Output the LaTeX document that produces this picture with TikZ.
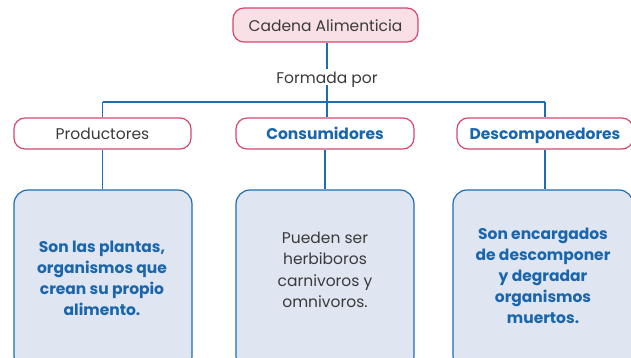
\documentclass[tikz,border=0pt]{standalone}
\usepackage{fontspec}
\setmainfont{Poppins}
\definecolor{pinkline}{HTML}{D9466E}
\definecolor{pinkfill}{HTML}{F8E0E6}
\definecolor{blueline}{HTML}{1F6CB0}
\definecolor{bluefill}{HTML}{DFE5F1}
\definecolor{bluetext}{HTML}{1A66AD}
\definecolor{graytext}{HTML}{3A3A3A}
\begin{document}
\begin{tikzpicture}[x=1pt,y=-1pt,
  pinkbox/.style={draw=pinkline,line width=1.2pt,rounded corners=11pt,inner sep=0pt,text height=12pt,text depth=0pt,font=\fontsize{15.5}{18}\selectfont},
  bluebox/.style={draw=blueline,fill=bluefill,line width=1.2pt,rounded corners=14pt,inner sep=0pt,minimum width=178pt,minimum height=180pt},
  plaintxt/.style={text=graytext,align=center,font=\fontsize{15.5}{21.5}\selectfont},
  boldtxt/.style={text=bluetext,align=center,font=\fontsize{15.5}{21}\selectfont\bfseries},
  conn/.style={draw=blueline,line width=1.1pt}]
\clip (0,0) rectangle (631,357);
\useasboundingbox (0,0) rectangle (631,357);
% top
\node[pinkbox,fill=pinkfill,minimum width=185pt,minimum height=34pt,text=graytext] (top) at (325.5,25) {Cadena Alimenticia};
\node[text=graytext,font=\fontsize{15.5}{18}\selectfont,inner sep=2pt,text height=12pt,text depth=0pt] (formada) at (327,77) {Formada por};
% row 2
\node[pinkbox,fill=white,minimum width=177pt,minimum height=31pt,text=graytext] (prod) at (102.5,133.5) {Productores};
\node[pinkbox,fill=white,minimum width=178pt,minimum height=31pt,text=bluetext,font=\fontsize{15.5}{18}\selectfont\bfseries] (cons) at (325,133.5) {Consumidores};
\node[pinkbox,fill=white,minimum width=176pt,minimum height=31pt,text=bluetext,font=\fontsize{15.5}{18}\selectfont\bfseries] (desc) at (545,133.5) {Descomponedores};
% connectors
\coordinate (jl) at (prod.north |- 0,102);
\coordinate (jm) at (327,102);
\coordinate (jr) at (desc.north |- 0,102);
\draw[conn] (top.south -| jm) -- (formada.north);
\draw[conn] (formada.south) -- (jm);
\draw[conn] (jl) -- (jr);
\draw[conn] (jl) -- (prod.north);
\draw[conn] (jm) -- (jm |- cons.north);
\draw[conn] (jr) -- (desc.north);
% bottom boxes
\node[bluebox] (bl) at (103,280) {};
\node[bluebox] (bm) at (325,280) {};
\node[bluebox,minimum width=180pt] (br) at (543,280) {};
\draw[conn] (prod.south) -- (prod.south |- bl.north);
\draw[conn] (cons.south) -- (cons.south |- bm.north);
\draw[conn] (desc.south) -- (desc.south |- br.north);
\node[boldtxt] (tl) at (102,278) {Son las plantas,\\organismos que\\crean su propio\\alimento.};
\node[plaintxt] (tm) at (325,270) {Pueden ser\\herbiboros\\carnivoros y\\omnivoros.};
\node[boldtxt] (tr) at (543,276) {Son encargados\\de descomponer\\y degradar\\organismos\\muertos.};
\end{tikzpicture}
\end{document}
